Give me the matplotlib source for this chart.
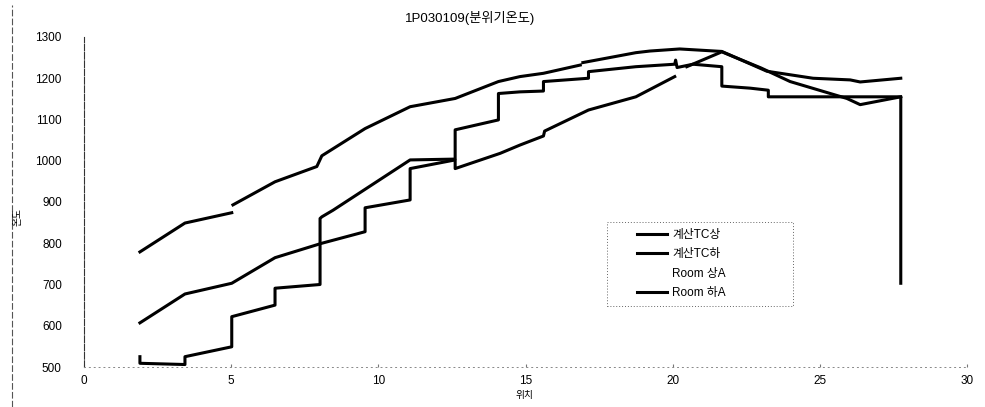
import numpy as np
import matplotlib
matplotlib.use("Agg")
import matplotlib.pyplot as plt
from matplotlib.lines import Line2D
from matplotlib.patches import Rectangle

plt.rcParams["font.family"] = ["Liberation Sans", "Noto Sans CJK KR", "DejaVu Sans"]

nan = np.nan

title = "1P030109(분위기온도)"
x_label = "위치"
y_label = "온도"
series_names = ["계산TC상", "계산TC하", "Room 상A", "Room 하A"]

# 계산TC상 (top curve); nan marks the breaks in the printed line
tc_hi_x = [1.90, 3.43, 5.02, nan, 5.06, 6.49, 7.91, 8.08, 9.55, 11.08, 12.61, 14.08,
           14.81, 15.61, 16.86, nan, 16.95, 18.75, 19.23, 20.24, 21.67, 23.20,
           24.77, 26.03, 26.37, 27.75]
tc_hi_y = [779, 849, 874, nan, 893, 949, 986, 1012, 1078, 1131, 1151, 1192,
           1204, 1212, 1232, nan, 1238, 1262, 1266, 1271, 1265, 1217,
           1200, 1196, 1191, 1200]

# 계산TC하 (middle curve)
tc_lo_x = [1.90, 3.43, 5.02, 6.49, 8.08, 9.55, 9.55, 11.08, 11.08, 12.61, 12.61,
           14.14, 14.81, 15.61, 15.65, 17.14, 18.75, 20.07, nan, 20.48, 21.67,
           23.00, 23.99, 25.92, 26.37, 27.75]
tc_lo_y = [607, 677, 703, 765, 800, 828, 886, 905, 981, 1002, 981,
           1018, 1038, 1060, 1072, 1123, 1155, 1204, nan, 1228, 1264,
           1225, 1192, 1151, 1136, 1155]

# Room 상A: no line survives in the printed chart
room_hi_x = []
room_hi_y = []

# Room 하A (stepped curve)
room_lo_x = [1.90, 1.90, 3.43, 3.43, 5.02, 5.02, 6.49, 6.49, 8.02, 8.02, 8.08, 8.46,
             11.08, 12.61, 12.61, 14.08, 14.08, 14.81, 15.61, 15.61, 17.14, 17.14,
             18.75, 20.07, 20.10, 20.15, 20.69, 21.67, 21.67, 22.63, 23.25, 23.25,
             25.92, 27.75, 27.75]
room_lo_y = [525, 509, 506, 525, 549, 622, 650, 691, 700, 860, 864, 880,
             1002, 1004, 1075, 1099, 1163, 1167, 1169, 1192, 1200, 1216,
             1228, 1234, 1244, 1226, 1234, 1228, 1181, 1176, 1171, 1155,
             1155, 1155, 703]

x_ticks = [0, 5, 10, 15, 20, 25, 30]
y_ticks = [500, 600, 700, 800, 900, 1000, 1100, 1200, 1300]

fig = plt.figure(figsize=(9.85, 4.07), dpi=100)
ax = fig.add_axes([84 / 985, 40 / 407, 883 / 985, 330 / 407])

ax.plot(tc_hi_x, tc_hi_y, color="black", lw=2.2, label=series_names[0])
ax.plot(tc_lo_x, tc_lo_y, color="black", lw=2.2, label=series_names[1])
ax.plot(room_hi_x, room_hi_y, color="none", lw=2.2, label=series_names[2])
ax.plot(room_lo_x, room_lo_y, color="black", lw=2.2, label=series_names[3])

ax.set_xlim(0, 30)
ax.set_ylim(500, 1300)
ax.set_xticks(x_ticks)
ax.set_yticks(y_ticks)
ax.tick_params(axis="y", length=0, pad=16, labelsize=8.5)
ax.tick_params(axis="x", direction="in", length=2, width=0.8, color="#777", pad=6, labelsize=8.5)

for side in ("top", "right"):
    ax.spines[side].set_visible(False)
ax.spines["left"].set_linestyle((0, (6, 1.5)))
ax.spines["left"].set_linewidth(0.8)
ax.spines["left"].set_color("#333")
ax.spines["bottom"].set_linestyle((0, (1, 4)))
ax.spines["bottom"].set_linewidth(0.7)
ax.spines["bottom"].set_color("#888")

# legend box: dotted sides like the print
ax.add_patch(Rectangle((0.592, 0.185), 0.211, 0.254, transform=ax.transAxes,
                       fill=False, edgecolor="#666", lw=0.7, ls=(0, (1, 2))))
ax.legend(loc="upper left", bbox_to_anchor=(0.626, 0.418), frameon=False,
          borderpad=0, borderaxespad=0, handlelength=2.6, handletextpad=0.4,
          labelspacing=0.62, fontsize=8.5)

fig.text(470 / 985, 1 - 18 / 407, title, ha="center", va="center", fontsize=9.5)
fig.text(525 / 985, 1 - 395 / 407, x_label, ha="center", va="center", fontsize=7)
fig.text(17 / 985, 1 - 217 / 407, y_label, ha="center", va="center", fontsize=7, rotation=90)

# outer chart frame (left edge only shows in the scan)
fig.add_artist(Line2D([12 / 985, 12 / 985], [0, 1 - 5 / 407], transform=fig.transFigure,
                      color="#555", lw=0.8, ls=(0, (6, 2))))

fig.savefig("out.png", dpi=100)
